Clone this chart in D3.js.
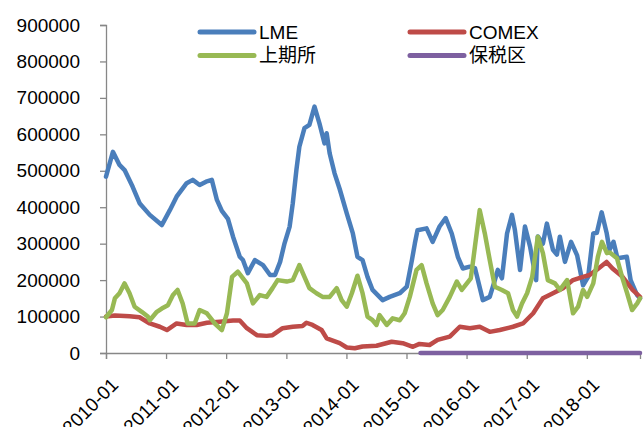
<!DOCTYPE html>
<html>
<head>
<meta charset="utf-8">
<script src="https://cdn.jsdelivr.net/npm/d3@7"></script>
<style>
  body { margin: 0; background: #fff; }
  text { font-family: "Liberation Sans", Arial, sans-serif; }
</style>
</head>
<body>
<div id="chart"></div>
<script>
var width = 643,
    height = 427;

// series: [date, tonnes]
var lme = [
  ["2010-01-01",484000],["2010-02-12",552000],["2010-03-24",516000],["2010-04-24",502000],
  ["2010-06-12",456000],["2010-07-24",411000],["2010-09-24",379000],["2010-12-06",351000],
  ["2011-01-24",392000],["2011-03-06",429000],["2011-05-06",466000],["2011-06-12",475000],
  ["2011-07-24",461000],["2011-09-01",470000],["2011-10-06",475000],["2011-11-06",420000],
  ["2011-12-06",390000],["2012-01-12",368000],["2012-02-12",319000],["2012-03-24",264000],
  ["2012-04-12",255000],["2012-05-12",219000],["2012-06-24",255000],["2012-08-12",241000],
  ["2012-09-24",214000],["2012-10-24",214000],["2012-11-24",250000],["2012-12-21",301000],
  ["2013-01-21",347000],["2013-02-09",411000],["2013-03-03",502000],["2013-03-21",566000],
  ["2013-04-21",617000],["2013-05-21",626000],["2013-06-21",676000],["2013-07-21",630000],
  ["2013-08-21",575000],["2013-09-03",603000],["2013-09-21",548000],["2013-10-21",493000],
  ["2013-11-21",450000],["2014-01-03",383000],["2014-02-09",328000],["2014-03-09",264000],
  ["2014-04-09",255000],["2014-05-09",209000],["2014-06-09",173000],["2014-08-09",145000],
  ["2014-09-21",154000],["2014-11-21",164000],["2015-01-03",182000],["2015-02-03",255000],
  ["2015-02-21",301000],["2015-03-09",337000],["2015-05-03",342000],["2015-06-09",305000],
  ["2015-07-21",347000],["2015-08-27",370000],["2015-10-03",328000],["2015-11-09",264000],
  ["2015-12-09",232000],["2016-01-21",237000],["2016-02-21",233000],["2016-04-09",145000],
  ["2016-05-21",154000],["2016-06-21",200000],["2016-07-09",228000],["2016-08-03",205000],
  ["2016-09-03",328000],["2016-10-03",379000],["2016-10-21",337000],["2016-11-21",228000],
  ["2016-12-21",347000],["2017-01-21",292000],["2017-02-27",200000],["2017-03-09",320000],
  ["2017-04-09",300000],["2017-05-03",355000],["2017-06-09",283000],["2017-07-03",270000],
  ["2017-07-21",319000],["2017-08-21",250000],["2017-09-27",305000],["2017-11-03",268000],
  ["2017-12-09",186000],["2018-01-09",209000],["2018-02-09",328000],["2018-03-03",330000],
  ["2018-04-01",386000],["2018-05-01",330000],["2018-05-19",283000],["2018-06-12",305000],
  ["2018-07-06",260000],["2018-09-01",264000],["2018-09-24",200000],["2018-11-01",160000],
  ["2018-11-20",150000]
];

var comex = [
  ["2010-01-01",100000],["2010-02-24",103000],["2010-05-24",101000],["2010-07-24",98000],
  ["2010-09-24",81000],["2010-11-24",72000],["2011-01-06",63000],["2011-03-06",81000],
  ["2011-05-06",77000],["2011-07-06",77000],["2011-09-06",83000],["2011-11-24",86000],
  ["2012-02-12",89000],["2012-03-24",89000],["2012-05-06",68000],["2012-07-06",49000],
  ["2012-09-03",47000],["2012-10-09",49000],["2012-12-09",68000],["2013-02-09",72000],
  ["2013-04-09",74000],["2013-05-03",83000],["2013-06-09",77000],["2013-08-03",63000],
  ["2013-09-03",40000],["2013-11-21",27000],["2014-01-03",15000],["2014-02-21",13000],
  ["2014-04-09",18000],["2014-07-03",20000],["2014-10-03",31000],["2014-12-09",27000],
  ["2015-02-09",17000],["2015-03-21",25000],["2015-05-21",22000],["2015-07-09",36000],
  ["2015-09-21",45000],["2015-11-21",72000],["2016-01-21",68000],["2016-03-21",72000],
  ["2016-05-21",58000],["2016-07-21",63000],["2016-10-09",72000],["2016-12-09",81000],
  ["2017-02-09",109000],["2017-04-09",150000],["2017-06-09",164000],["2017-08-09",178000],
  ["2017-10-09",200000],["2017-12-09",209000],["2018-01-18",214000],["2018-03-01",228000],
  ["2018-05-01",250000],["2018-06-06",232000],["2018-08-06",209000],["2018-10-06",173000],
  ["2018-11-20",154000]
];

var shfe = [
  ["2010-01-01",98000],["2010-02-06",118000],["2010-02-24",150000],["2010-03-24",164000],
  ["2010-04-24",191000],["2010-05-24",164000],["2010-06-24",127000],["2010-08-06",113000],
  ["2010-09-12",100000],["2010-09-24",90000],["2010-11-06",113000],["2010-12-06",122000],
  ["2011-01-12",131000],["2011-02-12",159000],["2011-03-12",173000],["2011-04-12",136000],
  ["2011-05-12",81000],["2011-06-24",81000],["2011-07-24",118000],["2011-09-06",109000],
  ["2011-10-24",81000],["2011-12-06",63000],["2012-01-06",109000],["2012-02-06",209000],
  ["2012-03-12",223000],["2012-05-06",191000],["2012-06-12",136000],["2012-07-24",159000],
  ["2012-09-03",154000],["2012-10-09",178000],["2012-11-09",200000],["2013-01-03",196000],
  ["2013-02-09",200000],["2013-03-21",241000],["2013-04-21",209000],["2013-05-21",178000],
  ["2013-07-03",164000],["2013-08-09",154000],["2013-09-21",154000],["2013-11-03",178000],
  ["2013-12-03",145000],["2014-01-03",127000],["2014-02-03",164000],["2014-03-09",212000],
  ["2014-04-09",164000],["2014-05-09",100000],["2014-06-09",90000],["2014-07-03",77000],
  ["2014-07-21",104000],["2014-09-03",77000],["2014-10-09",95000],["2014-11-21",90000],
  ["2014-12-21",109000],["2015-01-21",154000],["2015-03-03",228000],["2015-04-03",241000],
  ["2015-05-03",191000],["2015-06-09",136000],["2015-07-09",104000],["2015-08-09",118000],
  ["2015-09-21",154000],["2015-11-03",196000],["2015-12-03",173000],["2016-01-03",191000],
  ["2016-01-27",205000],["2016-02-21",292000],["2016-03-21",392000],["2016-04-21",328000],
  ["2016-05-21",255000],["2016-06-21",182000],["2016-08-03",173000],["2016-09-09",164000],
  ["2016-10-09",118000],["2016-11-03",100000],["2016-12-03",136000],["2017-01-03",164000],
  ["2017-02-03",209000],["2017-03-09",319000],["2017-04-09",274000],["2017-05-09",200000],
  ["2017-06-21",191000],["2017-07-21",173000],["2017-09-03",200000],["2017-10-09",109000],
  ["2017-11-09",127000],["2017-12-09",173000],["2018-01-03",154000],["2018-02-09",191000],
  ["2018-03-09",264000],["2018-04-03",305000],["2018-05-03",274000],["2018-05-21",276000],
  ["2018-07-03",260000],["2018-08-03",209000],["2018-09-03",164000],["2018-10-03",118000],
  ["2018-11-03",136000],["2018-11-20",150000]
];

var bonded = [["2015-03-27",0],["2016-06-01",0],["2017-06-01",0],["2018-11-20",0]];

var seriesNames = ["LME","COMEX","上期所","保税区"],
    seriesColors = ["#4a7ebb","#be4b48","#98b954","#7d60a0"],
    seriesData = [lme, comex, shfe, bonded];

var yTicks = [0,100000,200000,300000,400000,500000,600000,700000,800000,900000];

var parse = d3.timeParse("%Y-%m-%d");

var svg = d3.select("#chart").append("svg")
    .attr("width", width)
    .attr("height", height);

var x = d3.scaleTime()
    .domain([parse("2010-01-01"), parse("2018-11-20")])
    .range([106, 640]);

var y = d3.scaleLinear()
    .domain([0, 900000])
    .range([353, 25]);

// y axis
var yAxis = svg.append("g")
    .attr("transform", "translate(106,0)")
    .call(d3.axisLeft(y).tickValues(yTicks).tickSize(6).tickPadding(20).tickFormat(d3.format("d")));
yAxis.selectAll("text").attr("font-size", 19).attr("fill", "#000")
    .attr("font-family", "Liberation Sans, Arial, sans-serif");

// x axis
var xAxis = svg.append("g")
    .attr("transform", "translate(0,353)")
    .call(d3.axisBottom(x).ticks(d3.timeYear.every(1)).tickSize(6).tickFormat(d3.timeFormat("%Y-%m")));
xAxis.selectAll("text")
    .attr("font-size", 19).attr("fill", "#000")
    .attr("font-family", "Liberation Sans, Arial, sans-serif")
    .attr("text-anchor", "end")
    .attr("dy", "0.35em")
    .attr("transform", "translate(2,22) rotate(-45)");

svg.selectAll(".domain, .tick line").attr("stroke", "#878787").attr("stroke-width", 1.3);

var line = d3.line()
    .x(function(d){ return x(parse(d[0])); })
    .y(function(d){ return y(d[1]); });

// draw in excel series order; bonded on top of axis
[0,1,2,3].forEach(function(i){
  svg.append("path")
    .datum(seriesData[i])
    .attr("d", line)
    .attr("fill", "none")
    .attr("stroke", seriesColors[i])
    .attr("stroke-width", 4.5)
    .attr("stroke-linejoin", "round")
    .attr("stroke-linecap", "round");
});

// legend
var legendPos = [[200,32],[410,32],[200,55.5],[410,55.5]];
var legend = svg.selectAll(".legend")
    .data(seriesNames)
    .enter().append("g")
    .attr("class","legend")
    .attr("transform", function(d,i){ return "translate(" + legendPos[i][0] + "," + legendPos[i][1] + ")"; });

legend.append("line")
    .attr("x1", 0).attr("x2", 54)
    .attr("stroke", function(d,i){ return seriesColors[i]; })
    .attr("stroke-width", 5)
    .attr("stroke-linecap", "round");

legend.append("text")
    .attr("x", 59)
    .attr("dy", "0.35em")
    .attr("font-size", 19)
    .attr("fill", "#000")
    .style("font-family", function(d,i){ return i > 1 ? "'Noto Sans CJK SC', sans-serif" : "'Liberation Sans', Arial, sans-serif"; })
    .text(function(d){ return d; });
</script>
</body>
</html>
